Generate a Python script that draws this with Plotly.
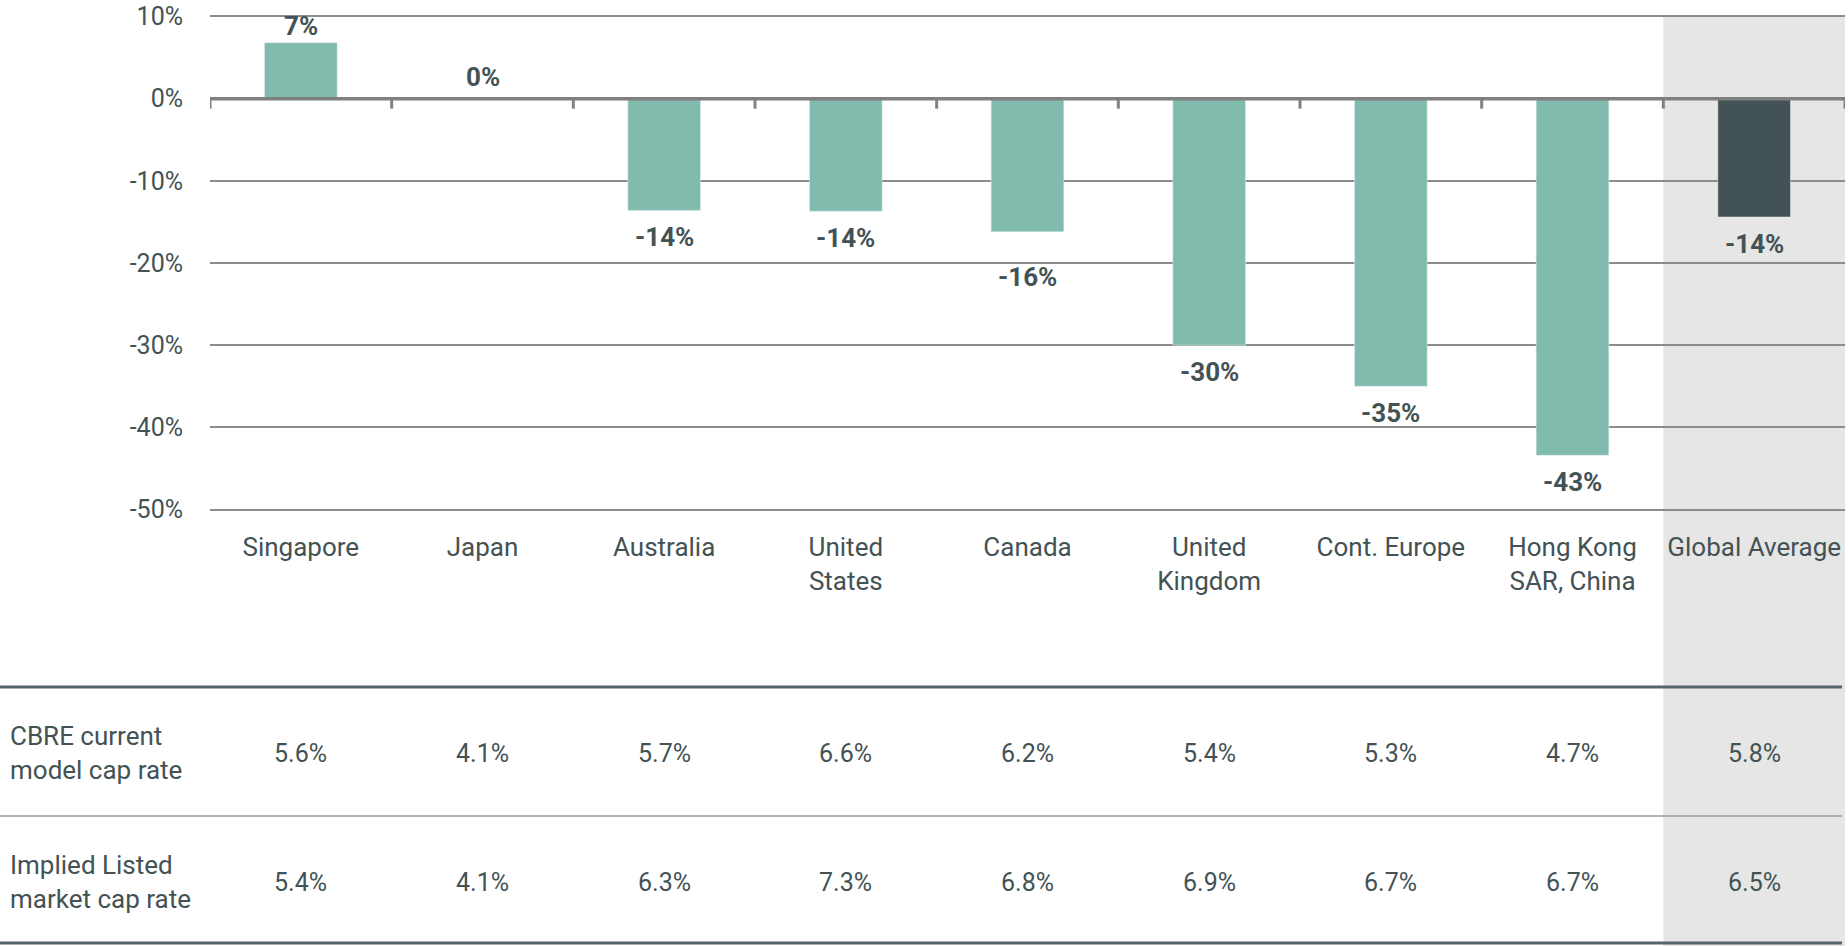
import plotly.graph_objects as go

categories = ["Singapore", "Japan", "Australia", "United<br>States", "Canada",
              "United<br>Kingdom", "Cont. Europe", "Hong Kong<br>SAR, China", "Global Average"]
gap_values = [6.8, 0.0, -13.6, -13.7, -16.2, -30.0, -35.0, -43.4, -14.4]
cbre_cap = ["5.6%", "4.1%", "5.7%", "6.6%", "6.2%", "5.4%", "5.3%", "4.7%", "5.8%"]
implied_cap = ["5.4%", "4.1%", "6.3%", "7.3%", "6.8%", "6.9%", "6.7%", "6.7%", "6.5%"]
row_labels = ["CBRE current<br>model cap rate", "Implied Listed<br>market cap rate"]
y_ticks = [10, 0, -10, -20, -30, -40, -50]
y_tick_text = ["10%", "0%", "-10%", "-20%", "-30%", "-40%", "-50%"]

W, H = 1848, 946
OFF = 0  # page body margin removed by post_script
# plot area in screen coordinates
PL, PR, PT, PB = 210, 1845, 14, 512
ML, MT = PL - OFF, PT - OFF
MR, MB = W - (PR - OFF), H - (PB - OFF)
PLOT_W = W - ML - MR
PLOT_H = H - MT - MB


def py(p):
    return (PB - p) / PLOT_H


def px(p):
    return (p - PL) / PLOT_W


TEAL = "#80BBAD"
DARK = "#435254"
FONT = "Roboto"

colors = [TEAL] * (len(categories) - 1) + [DARK]
# label nudges (pixels) for labels that avoid gridlines / sit on the axis
label_shift = {"Japan": 22, "Canada": -45}

fig = go.Figure()
fig.add_trace(go.Bar(x=categories, y=gap_values, marker_color=colors, width=0.4,
                     hoverinfo="skip"))

annotations = []
for c, v in zip(categories, gap_values):
    ys = label_shift.get(c, 17 if v >= 0 else -27)
    annotations.append(dict(x=c, y=v, xref="x", yref="y", text="<b>%d%%</b>" % round(v),
                            showarrow=False, yshift=ys,
                            font=dict(family=FONT, size=26, color=DARK)))

row_y = [753, 882]
for r, (lab, vals) in enumerate(zip(row_labels, [cbre_cap, implied_cap])):
    annotations.append(dict(x=px(8), y=py(row_y[r]), xref="paper", yref="paper", text=lab,
                            showarrow=False, xanchor="left", yanchor="middle", align="left",
                            font=dict(family=FONT, size=26, color=DARK)))
    for c, v in zip(categories, vals):
        annotations.append(dict(x=c, y=py(row_y[r]), xref="x", yref="paper", text=v,
                                showarrow=False, yanchor="middle",
                                font=dict(family=FONT, size=25, color=DARK)))

shapes = [
    dict(type="rect", xref="x", yref="paper", x0=7.5, x1=8.5, y0=py(H + 10), y1=py(16.5),
         fillcolor="#E6E6E6", line_width=0, layer="below"),
    dict(type="line", xref="paper", yref="y", x0=0, x1=1, y0=0, y1=0,
         line=dict(color="#808080", width=3.5), layer="above"),
    dict(type="line", xref="paper", yref="paper", x0=px(0), x1=px(1842), y0=py(687), y1=py(687),
         line=dict(color="#56656A", width=3), layer="above"),
    dict(type="line", xref="paper", yref="paper", x0=px(0), x1=px(1842), y0=py(816), y1=py(816),
         line=dict(color="#9A9A9A", width=1.5), layer="above"),
    dict(type="line", xref="paper", yref="paper", x0=px(0), x1=px(1842), y0=py(943), y1=py(943),
         line=dict(color="#56656A", width=3), layer="above"),
]
for i in range(len(categories) + 1):
    shapes.append(dict(type="line", xref="x", yref="y", ysizemode="pixel", yanchor=0,
                       x0=i - 0.5, x1=i - 0.5, y0=0, y1=-10,
                       line=dict(color="#808080", width=3), layer="above"))

fig.update_layout(
    width=W, height=H,
    margin=dict(l=ML, r=MR, t=MT, b=MB, pad=0, autoexpand=False),
    paper_bgcolor="white", plot_bgcolor="rgba(0,0,0,0)",
    showlegend=False,
    font=dict(family=FONT, size=25, color=DARK),
    annotations=annotations, shapes=shapes,
    xaxis=dict(type="category", showgrid=False, showline=False, zeroline=False,
               ticks="", tickfont=dict(family=FONT, size=26, color=DARK), automargin=False,
               ticklabelstandoff=17, range=[-0.5, 8.5]),
    yaxis=dict(range=[-50.3, 10.3], tickvals=y_ticks, ticktext=y_tick_text,
               showgrid=True, gridcolor="#8C8C8C", gridwidth=2, zeroline=False,
               showline=False, ticks="", ticklabelstandoff=26, ticklabeloverflow="allow",
               automargin=False, tickfont=dict(family=FONT, size=25, color=DARK)),
    bargap=0.6,
)

fig.write_html("out.html", config={"displayModeBar": False},
               post_script="document.body.style.margin='0';document.body.style.overflow='hidden';")
